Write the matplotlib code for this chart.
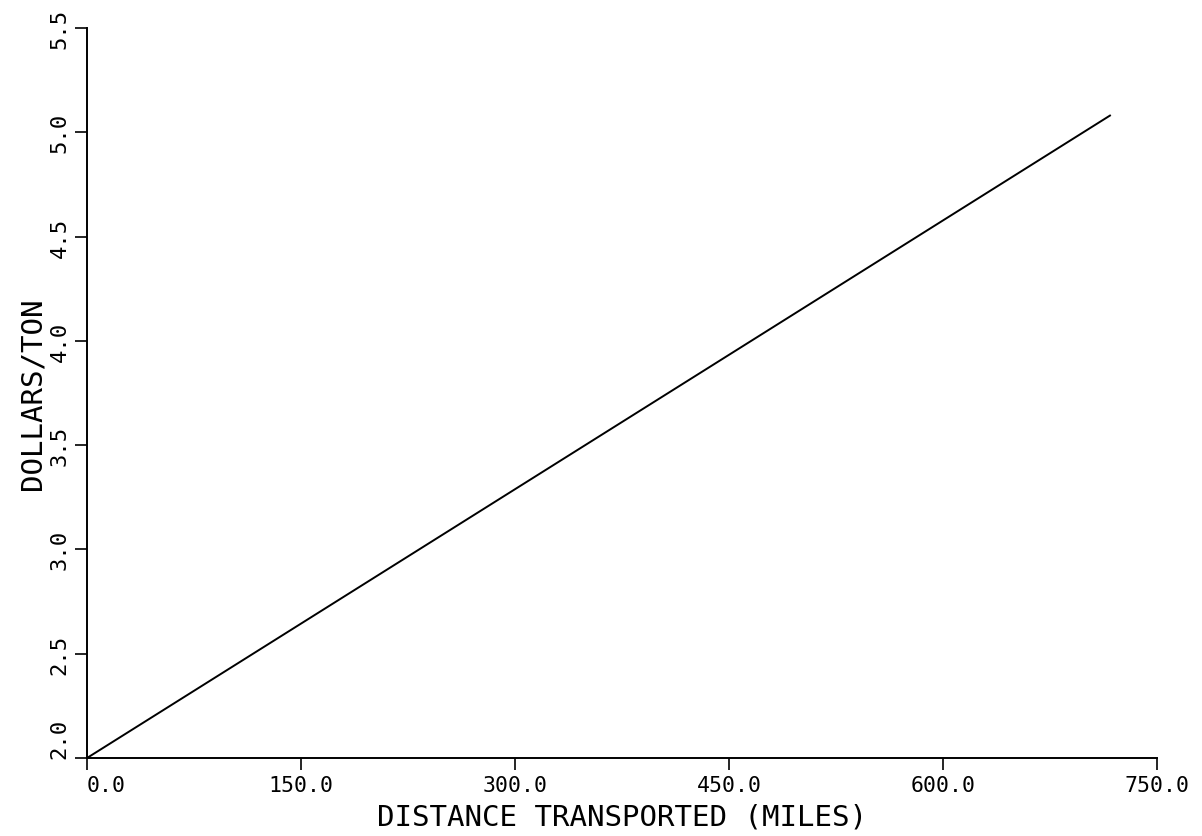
import matplotlib
matplotlib.use("Agg")
import matplotlib.pyplot as plt

# cost line
distance = [0.0, 717.0]
dollars_per_ton = [2.0, 5.08]

x_ticks = [0.0, 150.0, 300.0, 450.0, 600.0, 750.0]
y_ticks = [2.0, 2.5, 3.0, 3.5, 4.0, 4.5, 5.0, 5.5]

plt.rcParams['font.family'] = 'DejaVu Sans Mono'

fig = plt.figure(figsize=(12.02, 8.37), dpi=100)
ax = fig.add_axes([0.0724, 0.0932, 0.8902, 0.8722])

ax.plot(distance, dollars_per_ton, color='black', lw=1.4)

ax.set_xlim(0, 750)
ax.set_ylim(2.0, 5.5)
ax.set_xticks(x_ticks)
ax.set_yticks(y_ticks)
ax.set_xticklabels([f"{v:.1f}" for v in x_ticks], fontsize=15.5)
ax.set_yticklabels([f"{v:.1f}" for v in y_ticks], fontsize=16, rotation=90, va='center')

# origin labels sit beside the corner rather than centred on it
ax.get_xticklabels()[0].set_ha('left')
ax.get_yticklabels()[0].set_va('bottom')

for side in ['top', 'right']:
    ax.spines[side].set_visible(False)
for side in ['left', 'bottom']:
    ax.spines[side].set_linewidth(1.4)
ax.tick_params(direction='out', length=8.5, width=1.2, pad=4)

ax.set_xlabel('DISTANCE TRANSPORTED (MILES)', fontsize=21, labelpad=5)
ax.set_ylabel('DOLLARS/TON', fontsize=21, labelpad=2)

fig.savefig('out.png', dpi=100)
